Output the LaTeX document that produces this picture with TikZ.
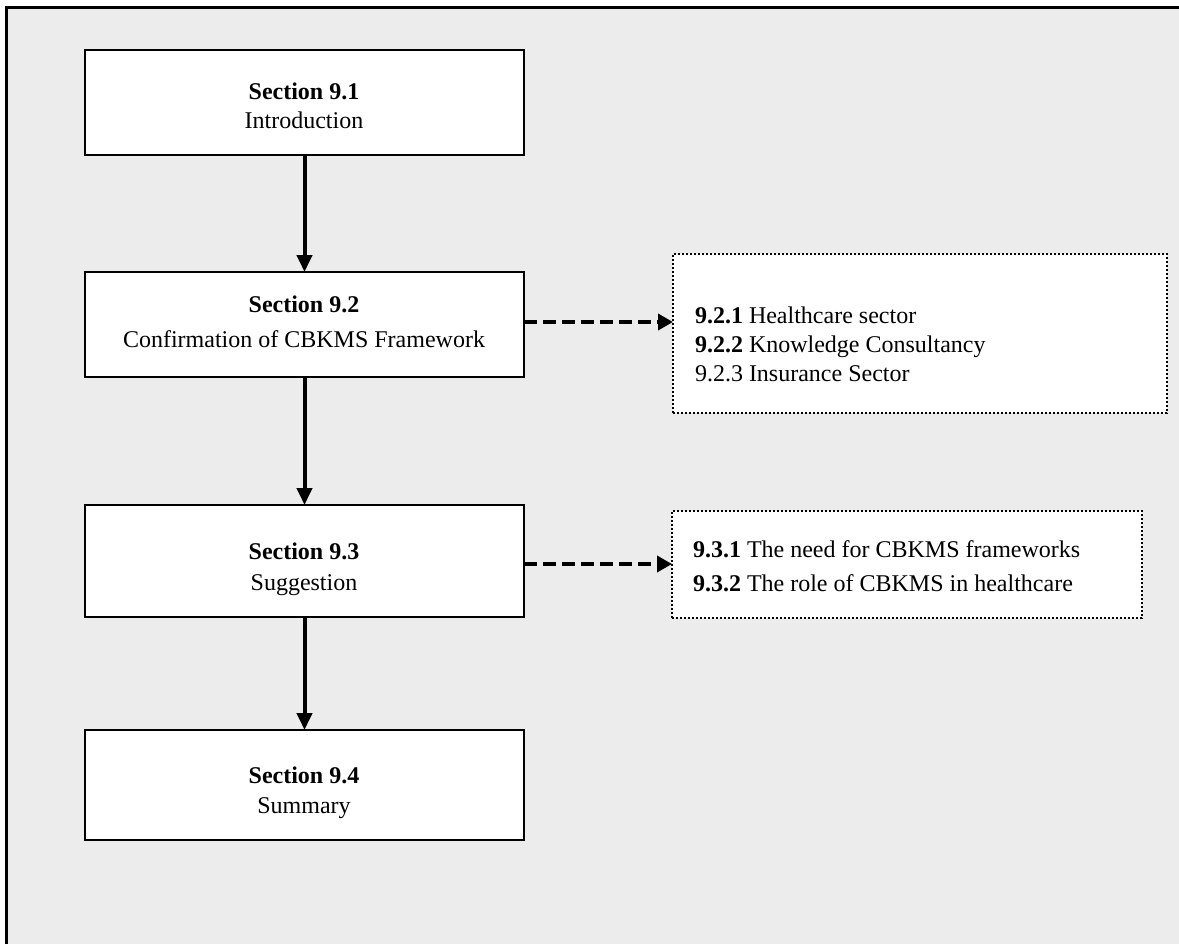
\documentclass[tikz,border=0pt]{standalone}
\usepackage{fontspec}
\setmainfont{Liberation Serif}
\usetikzlibrary{arrows.meta}
\definecolor{panel}{HTML}{ECECEC}
\begin{document}
\begin{tikzpicture}[x=0.5pt,y=-0.5pt,
  every node/.style={font=\fontsize{12pt}{14pt}\selectfont,inner sep=0pt,outer sep=0pt},
  sectbox/.style={draw=black,line width=1.4pt,fill=white,anchor=north west,minimum width=219.5pt},
  subbox/.style={draw=black,line width=1pt,fill=white,anchor=north west,
    dash pattern=on 1pt off 1pt},
  line/.style={anchor=base},
  item/.style={anchor=base west},
  flow/.style={line width=2pt,-{Triangle[length=8.5pt,width=7.5pt]}},
  detail/.style={line width=2pt,dash pattern=on 6.5pt off 3pt,-{Triangle[length=7.5pt,width=8pt]}}
]
\useasboundingbox (0,0) rectangle (1179,944);
% panel with its frame on the top and left
\fill[panel] (6.5,7.5) rectangle (1179,944);
\draw[line width=1.3pt] (6.5,944) -- (6.5,7.5) -- (1179,7.5);

% main sections
\node[sectbox,minimum height=52.5pt] (b1) at (85,50) {};
\node[sectbox,minimum height=52.5pt] (b2) at (85,272) {};
\node[sectbox,minimum height=56pt] (b3) at (85,505) {};
\node[sectbox,minimum height=55pt] (b4) at (85,730) {};

\node[line] (t1a) at (304,99) {\textbf{Section 9.1}};
\node[line] (t1b) at (304,128) {Introduction};
\node[line] (t2a) at (304,312) {\textbf{Section 9.2}};
\node[line] (t2b) at (304,347) {Confirmation of CBKMS Framework};
\node[line] (t3a) at (304,559) {\textbf{Section 9.3}};
\node[line] (t3b) at (304,590) {Suggestion};
\node[line] (t4a) at (304,783) {\textbf{Section 9.4}};
\node[line] (t4b) at (304,813) {Summary};

% subsections
\node[subbox,minimum width=247pt,minimum height=79.5pt] (d1) at (673,254) {};
\node[subbox,minimum width=235pt,minimum height=53.5pt] (d2) at (672,511) {};

\node[item] (s1) at (695,323) {\textbf{9.2.1} Healthcare sector};
\node[item] (s2) at (695,352) {\textbf{9.2.2} Knowledge Consultancy};
\node[item] (s3) at (695,381) {9.2.3 Insurance Sector};
\node[item] (s4) at (693,557) {\textbf{9.3.1} The need for CBKMS frameworks};
\node[item] (s5) at (693,591) {\textbf{9.3.2} The role of CBKMS in healthcare};

% connectors
\draw[flow] (b1) -- (b2);
\draw[flow] (b2) -- (b3);
\draw[flow] (b3) -- (b4);

\coordinate (r2) at (0,322);
\coordinate (r3) at (0,564);
\draw[detail] (b2.east |- r2) -- (d1.west |- r2);
\draw[detail] (b3.east |- r3) -- (d2.west |- r3);
\end{tikzpicture}
\end{document}
